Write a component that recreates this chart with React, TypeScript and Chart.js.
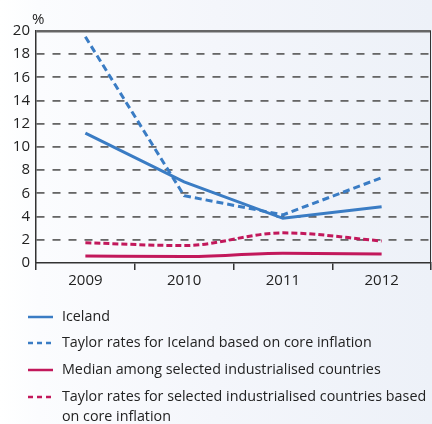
import React, { useEffect, useRef } from "react";
import { Chart, registerables } from "chart.js";

Chart.register(...registerables);

const years = ["2009", "2010", "2011", "2012"];
const iceland = [11.2, 7.0, 3.85, 4.85];
const taylorIceland = [19.5, 5.8, 4.15, 7.35];
const median = [0.6, 0.55, 0.83, 0.77];
const taylorIndustrial = [1.75, 1.5, 2.6, 1.9];

const seriesLabels = [
  "Iceland",
  "Taylor rates for Iceland based on core inflation",
  "Median among selected industrialised countries",
  "Taylor rates for selected industrialised countries based on core inflation",
];
const legendLines = [
  ["Iceland"],
  ["Taylor rates for Iceland based on core inflation"],
  ["Median among selected industrialised countries"],
  ["Taylor rates for selected industrialised countries based", "on core inflation"],
];
const unitLabel = "%";

const BLUE = "#3a7cc4";
const MAGENTA = "#c2185b";
const FONT = "'Open Sans', sans-serif";

export default function App() {
  const ref = useRef<HTMLCanvasElement | null>(null);

  useEffect(() => {
    if (!ref.current) return;

    const extras = {
      id: "extras",
      afterDraw(chart: any) {
        const ctx = chart.ctx;
        const area = chart.chartArea;
        ctx.save();
        // right border
        ctx.strokeStyle = "#333";
        ctx.lineWidth = 1;
        ctx.beginPath();
        ctx.moveTo(area.right - 0.5, area.top);
        ctx.lineTo(area.right - 0.5, area.bottom + 7);
        ctx.stroke();
        // unit
        ctx.fillStyle = "#222";
        ctx.font = `15px ${FONT}`;
        ctx.textAlign = "left";
        ctx.textBaseline = "alphabetic";
        ctx.fillText(unitLabel, 32, 24);
        // legend
        const ys = [317, 343, 370, 397];
        chart.data.datasets.forEach((ds: any, i: number) => {
          const y = ys[i];
          ctx.strokeStyle = ds.borderColor;
          ctx.lineWidth = 2.5;
          ctx.setLineDash(ds.borderDash && ds.borderDash.length ? [5, 4] : []);
          ctx.beginPath();
          ctx.moveTo(28, y);
          ctx.lineTo(53, y);
          ctx.stroke();
          ctx.setLineDash([]);
          ctx.fillStyle = "#222";
          ctx.font = `14.3px ${FONT}`;
          ctx.textBaseline = "middle";
          legendLines[i].forEach((t, j) => {
            ctx.fillText(t, 62, y + j * 20);
          });
        });
        ctx.restore();
      },
    };

    const chart = new Chart(ref.current, {
      type: "line",
      data: {
        labels: years,
        datasets: [
          {
            label: seriesLabels[0],
            data: iceland,
            borderColor: BLUE,
            borderWidth: 3,
            pointRadius: 0,
            tension: 0,
          },
          {
            label: seriesLabels[1],
            data: taylorIceland,
            borderColor: BLUE,
            borderWidth: 3,
            borderDash: [7, 4],
            pointRadius: 0,
            tension: 0,
          },
          {
            label: seriesLabels[2],
            data: median,
            borderColor: MAGENTA,
            borderWidth: 3,
            pointRadius: 0,
            cubicInterpolationMode: "monotone",
          },
          {
            label: seriesLabels[3],
            data: taylorIndustrial,
            borderColor: MAGENTA,
            borderWidth: 3,
            borderDash: [6, 3],
            pointRadius: 0,
            cubicInterpolationMode: "monotone",
          },
        ],
      },
      options: {
        animation: false,
        responsive: false,
        maintainAspectRatio: false,
        layout: { padding: { top: 31, left: 0, right: 1, bottom: 131 } },
        plugins: { legend: { display: false }, tooltip: { enabled: false } },
        scales: {
          x: {
            type: "category",
            offset: true,
            afterFit: (s: any) => {
              s.height = 30;
            },
            grid: {
              offset: true,
              drawOnChartArea: false,
              drawTicks: true,
              tickLength: 7,
              color: "#333",
              lineWidth: 1.5,
            },
            border: { display: true, color: "#333", width: 1.5 },
            ticks: {
              color: "#222",
              font: { family: FONT, size: 15 },
              padding: 2,
            },
          },
          y: {
            min: 0,
            max: 20,
            afterFit: (s: any) => {
              s.width = 36;
            },
            ticks: {
              stepSize: 2,
              color: "#222",
              font: { family: FONT, size: 15 },
              padding: 6,
            },
            grid: {
              drawTicks: false,
              color: (c: any) => (c.tick && c.tick.value === 0 ? "rgba(0,0,0,0)" : "#666"),
              lineWidth: (c: any) => (c.tick && c.tick.value === 20 ? 2.5 : 1.8),
            },
            border: {
              display: true,
              color: "#333",
              width: 1.5,
              dash: (c: any) => (c.tick && c.tick.value === 20 ? [] : [8, 8]),
            },
          },
        },
      },
      plugins: [extras],
    } as any);

    return () => chart.destroy();
  }, []);

  return (
    <div
      style={{
        position: "absolute",
        top: 0,
        left: 0,
        width: 432,
        height: 424,
        background: "linear-gradient(to right, #ffffff 0%, #fbfcfe 9%, #f4f6fb 50%, #edf1f8 100%)",
      }}
    >
      <canvas ref={ref} width={432} height={424} style={{ display: "block" }} />
    </div>
  );
}
